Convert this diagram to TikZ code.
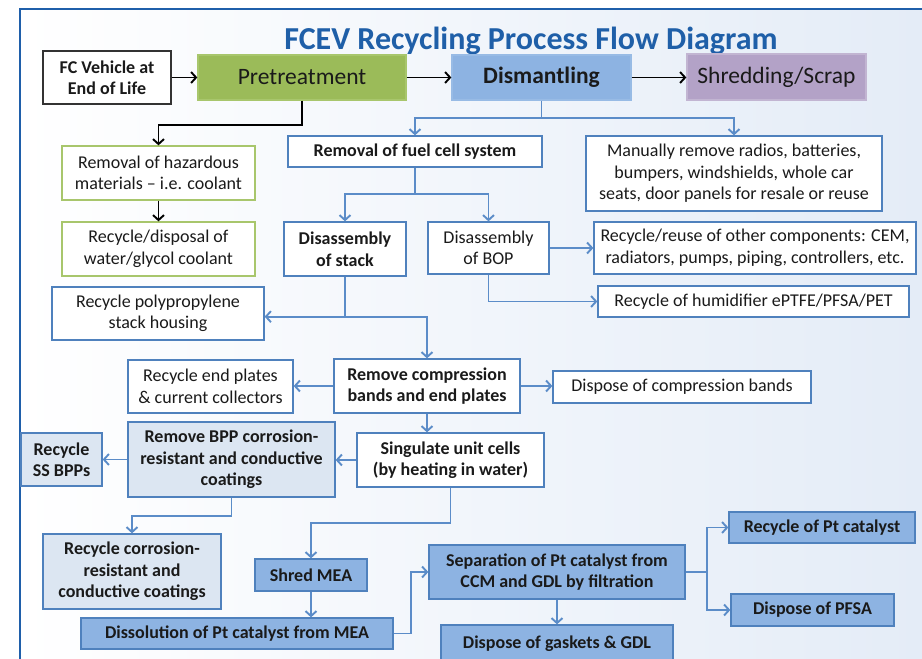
\documentclass[tikz,border=0pt]{standalone}
\usepackage{fontspec}
\setmainfont{Carlito}
\usetikzlibrary{arrows.meta}
\definecolor{bord}{HTML}{4F81BD}
\definecolor{lnk}{HTML}{5B8CC8}
\definecolor{grn}{HTML}{9BBB59}
\definecolor{grnb}{HTML}{A8C66C}
\definecolor{mfill}{HTML}{8DB3E2}
\definecolor{lfill}{HTML}{DCE6F2}
\definecolor{purp}{HTML}{B3A2C7}
\definecolor{ttl}{HTML}{1F5FA8}
\definecolor{frm}{HTML}{1F5FAA}
\definecolor{bgb}{HTML}{E4ECF7}
\definecolor{txt}{HTML}{1A1A1A}
\newcommand\bx[7]{\node[#2, minimum width={#5-#3}, minimum height={#6-#4}] (#1) at ({(#3+#5)/2},{(#4+#6)/2}) {#7};}
\begin{document}
\begin{tikzpicture}[x=1pt,y=-1pt,
  base/.style={rectangle, inner sep=1pt, align=center, line width=1.3pt, text=txt},
  reg/.style={font=\fontsize{18}{21.5}\selectfont},
  bld/.style={font=\fontsize{18}{21.5}\selectfont\bfseries},
  wbox/.style={base, reg, draw=bord, fill=white},
  wboxb/.style={base, bld, draw=bord, fill=white},
  gbox/.style={base, reg, draw=grnb, fill=white},
  lbox/.style={base, bld, draw=bord, fill=lfill},
  mbox/.style={base, bld, draw=bord, fill=mfill},
  kbox/.style={base, bld, draw=black!80, fill=white, line width=1.1pt},
  big/.style={base, font=\fontsize{23.5}{27}\selectfont},
  conn/.style={draw=lnk, line width=1.8pt, -{Straight Barb[length=5pt,width=11pt,line width=1.9pt]}},
  blk/.style={draw=black, line width=1.8pt, -{Straight Barb[length=5pt,width=11pt,line width=1.9pt]}}
]
\useasboundingbox (0,0) rectangle (922,659);
\fill[white] (0,0) rectangle (922,659);
\fill[left color=white, right color=bgb] (20,8.5) rectangle (922,659);
\draw[frm, line width=2pt] (20,661) -- (20,8.5) -- (924,8.5);

\node[font=\fontsize{32}{36}\selectfont\bfseries, text=ttl] (title) at (531,41) {FCEV Recycling Process Flow Diagram};

\bx{fcv}{kbox}{43}{51}{171}{104}{FC Vehicle at\\End of Life}
\bx{pre}{big, fill=grn, draw=grnb}{198}{55}{406}{100}{Pretreatment}
\bx{dis}{big, fill=mfill, draw=mfill!90!white, font=\fontsize{23.5}{27}\selectfont\bfseries}{452}{55}{631}{100}{Dismantling}
\bx{shr}{big, fill=purp, draw=purp!80!white}{687}{54}{866}{100}{Shredding/Scrap}

\bx{haz}{gbox}{62}{146}{255}{200}{Removal of hazardous\\materials -- i.e. coolant}
\bx{gly}{gbox}{62}{222}{255}{276}{Recycle/disposal of\\water/glycol coolant}
\bx{fcs}{wboxb}{288}{136}{542}{167}{Removal of fuel cell system}
\bx{man}{wbox}{586}{136}{882}{211}{Manually remove radios, batteries,\\bumpers, windshields, whole car\\seats, door panels for resale or reuse}
\bx{stk}{wboxb}{284}{222}{406}{276}{Disassembly\\of stack}
\bx{bop}{wbox}{428}{222}{549}{274}{Disassembly\\of BOP}
\bx{rec}{wbox}{594}{222}{916}{274}{Recycle/reuse of other components: CEM,\\radiators, pumps, piping, controllers, etc.}
\bx{hum}{wbox}{598}{286}{909}{317}{Recycle of humidifier ePTFE/PFSA/PET}
\bx{poly}{wbox}{52}{287}{264}{340}{Recycle polypropylene\\stack housing}
\bx{rc}{wboxb}{334}{359}{520}{413}{Remove compression\\bands and end plates}
\bx{endp}{wbox}{128}{360}{293}{413}{Recycle end plates\\\& current collectors}
\bx{dcb}{wbox}{553}{371}{811}{403}{Dispose of compression bands}
\bx{sing}{wboxb}{357}{433}{544}{487}{Singulate unit cells\\(by heating in water)}
\bx{bpp}{lbox}{128}{422}{335}{497}{Remove BPP corrosion-\\resistant and conductive\\coatings}
\bx{ssb}{lbox}{21}{433}{102}{486}{Recycle\\SS BPPs}
\bx{rcc}{lbox}{43}{534}{221}{609}{Recycle corrosion-\\resistant and\\conductive coatings}
\bx{shred}{mbox}{255}{559}{367}{591}{Shred MEA}
\bx{diss}{mbox}{81}{618}{393}{649}{Dissolution of Pt catalyst from MEA}
\bx{sep}{mbox}{429}{545}{685}{599}{Separation of Pt catalyst from\\CCM and GDL by filtration}
\bx{rpt}{mbox}{729}{512}{915}{543}{Recycle of Pt catalyst}
\bx{pfsa}{mbox}{731}{594}{894}{626}{Dispose of PFSA}
\bx{gask}{mbox}{441}{625}{673}{663}{Dispose of gaskets \& GDL}

\draw[blk] (fcv.east) -- (pre.west);
\draw[blk] (pre.east) -- (dis.west);
\draw[blk] (dis.east) -- (dis.east -| shr.west);
\draw[blk] (pre.south) -- ++(0,24) -| (haz.north);
\draw[blk] (haz.south) -- (gly.north);

\draw[conn] (dis.south) -- ++(0,17) coordinate (d1) -| (fcs.north);
\draw[conn] (d1) -| (man.north);
\draw[conn] (fcs.south) -- ++(0,26) coordinate (f1) -| (stk.north);
\draw[conn] (f1) -| (bop.north);
\draw[conn] (bop.east) -- (rec.west);
\draw[conn] (bop.south) |- (hum.west);
\draw[conn] (stk.south) -- ++(0,40) coordinate (k1) -- (k1 -| poly.east);
\draw[conn] (k1) -| (rc.north);
\draw[conn] (rc.west) -- (rc.west -| endp.east);
\draw[conn] (rc.east) -- (rc.east -| dcb.west);
\draw[conn] (rc.south) -- (rc.south |- sing.north);
\draw[conn] (sing.west) -- (sing.west -| bpp.east);
\draw[conn] (bpp.west) -- (bpp.west -| ssb.east);
\draw[conn] (bpp.south) -- ++(0,18) -| (rcc.north);
\draw[conn] (sing.south) -- ++(0,35) -| (shred.north);
\draw[conn] (shred.south) -- (shred.south |- diss.north);
\draw[conn] (diss.east) -- ++(17,0) |- (sep.west);
\draw[conn] (sep.east) -- ++(21,0) coordinate (s1) |- (rpt.west);
\draw[conn] (s1) |- (pfsa.west);
\draw[conn] (sep.south) -- (sep.south |- gask.north);
\end{tikzpicture}
\end{document}
